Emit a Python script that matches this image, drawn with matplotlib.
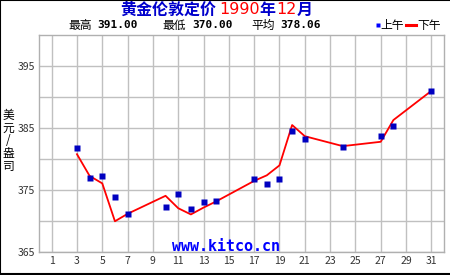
import numpy as np
import matplotlib.pyplot as plt
from matplotlib.lines import Line2D

plt.rcParams['font.family'] = ['Noto Sans CJK SC', 'DejaVu Sans']

# morning fix (blue squares)
am_days = [3, 4, 5, 6, 7, 10, 11, 12, 13, 14, 17, 18, 19, 20, 21, 24, 27, 28, 31]
am_vals = [381.8, 376.9, 377.3, 373.9, 371.1, 372.3, 374.4, 371.9, 373.1, 373.2,
           376.8, 376.0, 376.8, 384.5, 383.2, 381.9, 383.7, 385.3, 391.0]
# afternoon fix (red line)
pm_days = [3, 4, 5, 6, 7, 10, 11, 12, 13, 14, 17, 18, 19, 20, 21, 24, 27, 28, 31]
pm_vals = [380.8, 377.3, 376.1, 370.0, 371.2, 374.1, 372.1, 371.1, 372.2, 373.2,
           376.5, 377.4, 379.0, 385.5, 383.7, 382.1, 382.8, 386.3, 391.0]

x_ticks = list(range(1, 32, 2))
y_ticks = [365, 375, 385, 395]
y_grid = [370, 380, 390]

W, H = 450, 275
fig = plt.figure(figsize=(4.5, 2.75), dpi=100)
ax = fig.add_axes([39 / W, 1 - 252.3 / H, 405 / W, 217.3 / H])

ax.plot(pm_days, pm_vals, '-', color='#ff0000', lw=1.3, zorder=3)
ax.plot(am_days, am_vals, 's', color='#0000c0', ms=4.2, mec='none', zorder=4)

ax.set_xlim(0, 32)
ax.set_ylim(365, 400)
ax.set_xticks(x_ticks)
ax.set_yticks(y_ticks)
ax.set_yticks(y_grid, minor=True)
ax.tick_params(which='both', length=0, labelsize=7.5, colors='#333333', pad=3)
ax.grid(True, which='both', color='#c0c0c0', lw=1)
ax.set_axisbelow(True)
for s in ax.spines.values():
    s.set_color('#b0b0b0')
    s.set_linewidth(1)

renderer = fig.canvas.get_renderer()


def put(x_px, y_px, txt, **kw):
    # place text by pixel position, return right edge in pixels
    t = fig.text(x_px / W, 1 - y_px / H, txt, ha='left', va='center', **kw)
    bb = t.get_window_extent(renderer)
    return x_px + bb.width


# title
blue, red = '#0000cc', '#ff0000'
x = 120
x = put(x, 10, '黄金伦敦定价', color=blue, fontsize=11.5, fontweight='bold')
x = put(x + 3, 10, '1990', color=red, fontsize=11.5, family='DejaVu Sans')
x = put(x, 10, '年', color=blue, fontsize=11.5, fontweight='bold')
x = put(x + 1, 10, '12', color=red, fontsize=11.5, family='DejaVu Sans')
put(x, 10, '月', color=blue, fontsize=11.5, fontweight='bold')

stats = [('最高', '391.00', 68, 97), ('最低', '370.00', 162, 192), ('平均', '378.06', 251, 280)]
for lab, val, xl, xv in stats:
    put(xl, 25, lab, fontsize=8.5, color='black')
    put(xv, 25.5, val, fontsize=8, family='DejaVu Sans Mono', fontweight='bold',
        color='black')

# legend
fig.add_artist(Line2D([377.5 / W], [1 - 25 / H], marker='s', color='#0000ff', ms=3.5,
                      mec='none'))
put(380, 25, '上午', fontsize=8.5)
fig.add_artist(Line2D([406 / W, 416 / W], [1 - 25 / H] * 2, color='#ff0000', lw=2.2))
put(417, 25, '下午', fontsize=8.5)

# y label, stacked
fig.text(8.5 / W, 1 - 141 / H, '美\n元\n/\n盎\n司', fontsize=8.5, ha='center',
         va='center', linespacing=0.98)

# watermark
ax.text(14.77, 365.9, 'www.kitco.cn', color='#0000ff', fontsize=10.8, fontweight='bold',
        family='DejaVu Sans Mono', ha='center', va='center')

# outer frame
fig.add_artist(Line2D([0.001, 0.001], [0, 1], color='black', lw=1.5))
fig.add_artist(Line2D([0, 1], [0.999, 0.999], color='black', lw=1.5))
fig.add_artist(Line2D([0, 1], [0.002, 0.002], color='black', lw=1.5))

fig.savefig('out.png', dpi=100)
